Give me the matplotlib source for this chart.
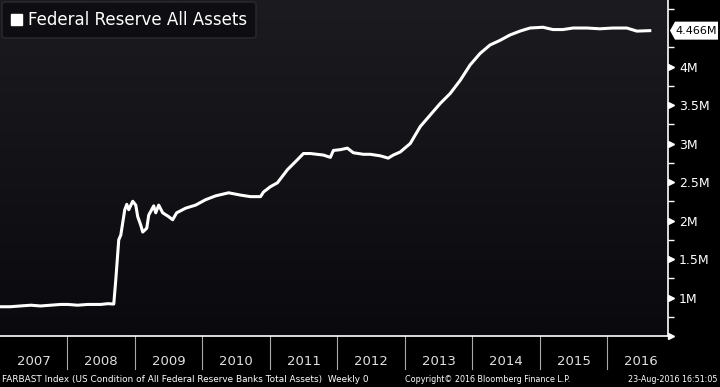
import matplotlib
matplotlib.use("Agg")
import matplotlib.pyplot as plt
import matplotlib.transforms as mtransforms
from matplotlib.patches import FancyBboxPatch, Polygon, Rectangle
import numpy as np

# Federal Reserve total assets (USD millions, shown in "M" = millions of millions)
dates = [
    2007.015, 2007.15, 2007.30, 2007.459, 2007.60, 2007.75, 2007.90, 2008.006,
    2008.15, 2008.30, 2008.494, 2008.60, 2008.686, 2008.716, 2008.760, 2008.790,
    2008.849, 2008.879, 2008.908, 2008.967, 2009.012, 2009.041, 2009.086, 2009.115,
    2009.175, 2009.204, 2009.278, 2009.308, 2009.352, 2009.411, 2009.500, 2009.559,
    2009.618, 2009.751, 2009.899, 2010.047, 2010.195, 2010.388, 2010.565, 2010.713,
    2010.861, 2010.905, 2011.009, 2011.112, 2011.260, 2011.408, 2011.497, 2011.601,
    2011.793, 2011.896, 2011.941, 2012.044, 2012.148, 2012.237, 2012.385, 2012.488,
    2012.636, 2012.754, 2012.828, 2012.932, 2013.080, 2013.228, 2013.376, 2013.524,
    2013.672, 2013.820, 2013.967, 2014.115, 2014.263, 2014.411, 2014.559, 2014.707,
    2014.855, 2015.047, 2015.195, 2015.343, 2015.492, 2015.699, 2015.891, 2016.083,
    2016.290, 2016.438, 2016.630,
]
assets = [
    0.88, 0.88, 0.89, 0.90, 0.89, 0.90, 0.91, 0.91,
    0.90, 0.91, 0.91, 0.92, 0.915, 1.23, 1.75, 1.81,
    2.14, 2.21, 2.14, 2.25, 2.20, 2.05, 1.94, 1.85,
    1.90, 2.07, 2.19, 2.10, 2.20, 2.10, 2.05, 2.01,
    2.10, 2.16, 2.20, 2.27, 2.32, 2.36, 2.33, 2.31,
    2.31, 2.37, 2.44, 2.49, 2.66, 2.79, 2.87, 2.87,
    2.85, 2.82, 2.91, 2.92, 2.94, 2.88, 2.86, 2.86,
    2.84, 2.81, 2.85, 2.89, 3.00, 3.22, 3.37, 3.52,
    3.65, 3.82, 4.02, 4.17, 4.28, 4.34, 4.41, 4.46,
    4.50, 4.51, 4.48, 4.48, 4.50, 4.50, 4.49, 4.50,
    4.50, 4.46, 4.466,
]
years = list(range(2007, 2017))
major_ticks = [1, 1.5, 2, 2.5, 3, 3.5, 4]
major_labels = ["1M", "1.5M", "2M", "2.5M", "3M", "3.5M", "4M"]
minor_ticks = [0.75, 1.25, 1.75, 2.25, 2.75, 3.25, 3.75, 4.25, 4.75]
last_label = "4.466M"

W, H = 720, 387
fig = plt.figure(figsize=(W / 100, H / 100), dpi=100)
fig.patch.set_facecolor("black")
ax = fig.add_axes([0, 51 / H, 668 / W, 336 / H])
ax.set_xlim(2007.0, 2016.9)
ax.set_ylim(0.5, 4.864)

# dark vertical gradient background
grad = np.linspace(0, 1, 256).reshape(-1, 1)
cmap = matplotlib.colors.LinearSegmentedColormap.from_list("bg", ["#1b1b20", "#09090e"])
ax.imshow(grad, extent=[0, 1, 0, 1], transform=ax.transAxes, cmap=cmap,
          aspect="auto", zorder=0, origin="upper")

ax.plot(dates, assets, color="white", lw=2.2, zorder=3, solid_joinstyle="round")

for s in ["left", "top"]:
    ax.spines[s].set_visible(False)
for s in ["right", "bottom"]:
    ax.spines[s].set_color("white")
    ax.spines[s].set_linewidth(1.2)

# y axis on the right
ax.yaxis.tick_right()
ax.set_yticks(major_ticks)
ax.set_yticklabels(major_labels)
ax.set_yticks(minor_ticks, minor=True)
ax.tick_params(axis="y", which="major", length=0, pad=8, labelcolor="white", labelsize=9)
ax.tick_params(axis="y", which="minor", length=4, width=1, color="white", direction="out")
ax.set_xticks([])
trans_y = mtransforms.blended_transform_factory(ax.transAxes, ax.transData)
ax.plot([1.004] * 8, [0.5] + major_ticks, ls="none", marker=">", ms=5,
        color="white", transform=trans_y, clip_on=False, zorder=4)

# year labels and separators under the axis
trans_x = mtransforms.blended_transform_factory(ax.transData, ax.transAxes)
for y in years:
    if y > 2007:
        ax.plot([y, y], [0, -0.098], color="#aaaaaa", lw=0.8, transform=trans_x, clip_on=False)
    ax.text(y + 0.5, -0.075, str(y), transform=trans_x, ha="center", va="center",
            color="#e0e0e0", fontsize=9.5)

# legend box (pixel coords measured from the top)
def fpx(x, y_top):
    return (x / W, 1 - y_top / H)

leg = FancyBboxPatch(fpx(2, 38), 254 / W, 36 / H, boxstyle="round,pad=0,rounding_size=0.005",
                     transform=fig.transFigure, facecolor="#0e0e12", edgecolor="#2a2a30",
                     lw=1, zorder=5)
fig.patches.append(leg)
fig.patches.append(Rectangle(fpx(11, 25), 11 / W, 11 / H, transform=fig.transFigure,
                             color="white", zorder=6))
fig.text(28 / W, 1 - 20 / H, "Federal Reserve All Assets", color="white",
         fontsize=12, va="center", ha="left", zorder=6)

# last value tag
yv = assets[-1]
disp = ax.transData.transform((2016.9, yv))
fx, fy = fig.transFigure.inverted().transform(disp)
px = 1 / W
py = 1 / H
tag = Polygon([(fx + 2 * px, fy), (fx + 7 * px, fy + 9 * py), (fx + 50 * px, fy + 9 * py),
               (fx + 50 * px, fy - 9 * py), (fx + 7 * px, fy - 9 * py)],
              closed=True, transform=fig.transFigure, facecolor="white", edgecolor="none", zorder=6)
fig.patches.append(tag)
fig.text(fx + 28 * px, fy, last_label, color="black", fontsize=8, ha="center",
         va="center", zorder=7)

# footer
fig.text(2 / W, 8 / H, "FARBAST Index (US Condition of All Federal Reserve Banks Total Assets)  Weekly 0",
         color="white", fontsize=6.4, va="center")
fig.text(405 / W, 8 / H, "Copyright\u00a9 2016 Bloomberg Finance L.P.",
         color="white", fontsize=5.8, va="center")
fig.text(718 / W, 8 / H, "23-Aug-2016 16:51:05", color="white", fontsize=5.8,
         va="center", ha="right")

fig.savefig("out.png", dpi=100, facecolor="black")
